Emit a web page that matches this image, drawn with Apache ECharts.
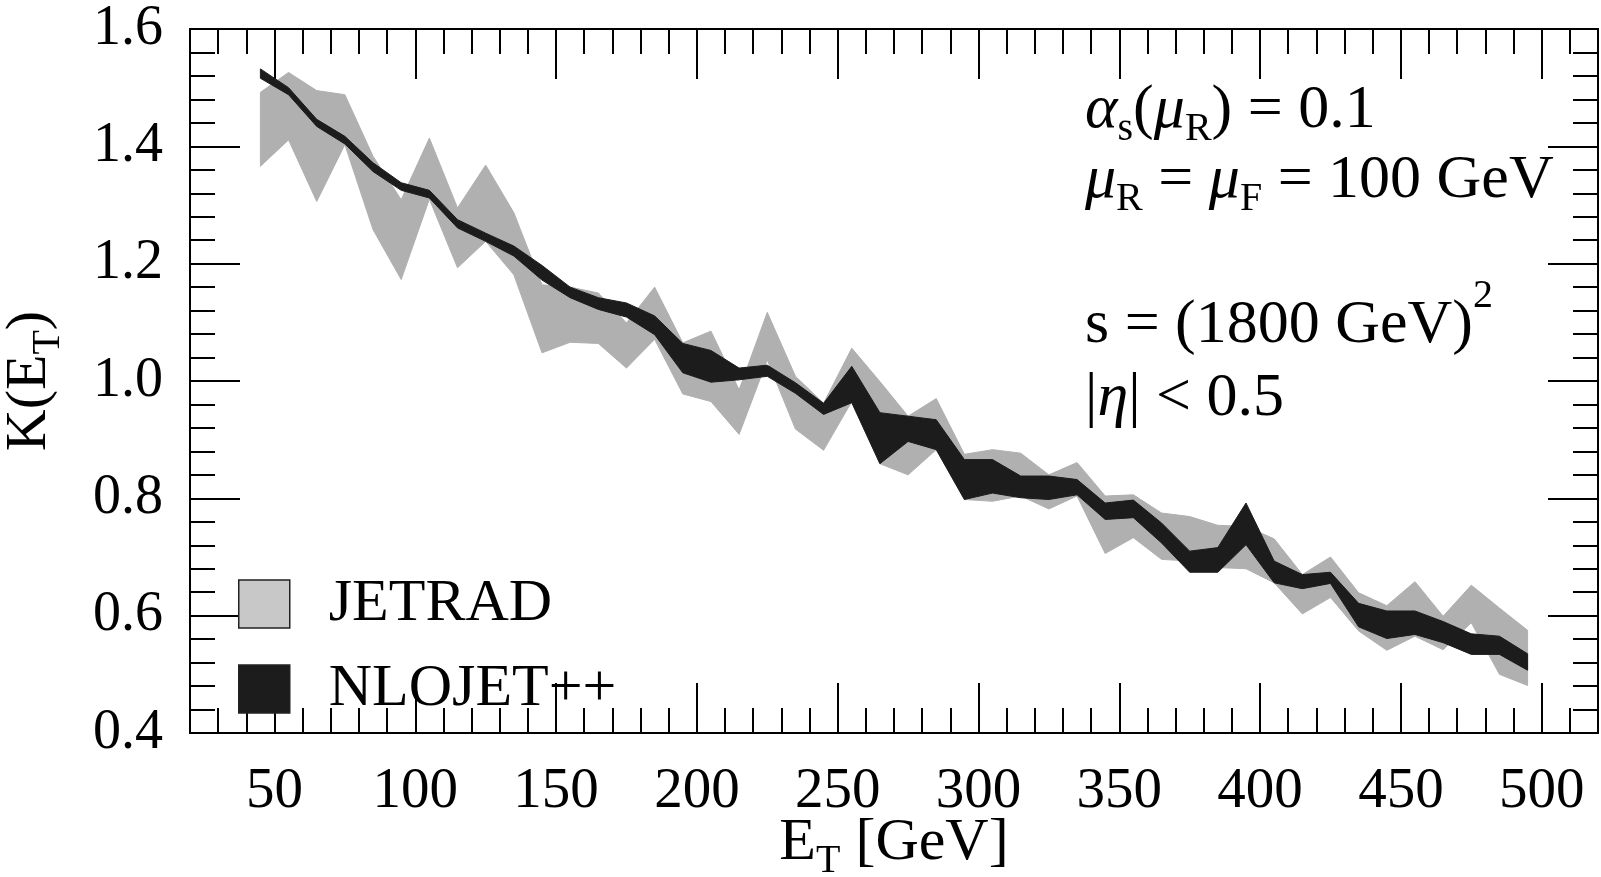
<!DOCTYPE html>
<html>
<head>
<meta charset="utf-8">
<script src="https://cdn.jsdelivr.net/npm/echarts@6/dist/echarts.min.js"></script>
<style>
  html, body { margin: 0; padding: 0; background: #fff; }
  #chart { width: 1601px; height: 877px; }
</style>
</head>
<body>
<div id="chart"></div>
<script>
// E_T bin centres [GeV]
const et = [45, 55, 65, 75, 85, 95, 105, 115, 125, 135, 145, 155, 165, 175, 185, 195,
  205, 215, 225, 235, 245, 255, 265, 275, 285, 295, 305, 315, 325, 335, 345, 355,
  365, 375, 385, 395, 405, 415, 425, 435, 445, 455, 465, 475, 485, 495];

// JETRAD band (upper / lower edge of K)
const jetradHi = [1.492, 1.526, 1.495, 1.488, 1.383, 1.309, 1.414, 1.295, 1.368, 1.287,
  1.164, 1.160, 1.150, 1.099, 1.160, 1.065, 1.085, 0.985, 1.117, 1.008, 0.962, 1.056,
  0.999, 0.940, 0.970, 0.875, 0.883, 0.877, 0.840, 0.861, 0.804, 0.806, 0.775, 0.769,
  0.754, 0.752, 0.731, 0.670, 0.700, 0.639, 0.617, 0.658, 0.599, 0.652, 0.613, 0.575];
const jetradLo = [1.366, 1.411, 1.306, 1.403, 1.258, 1.173, 1.310, 1.193, 1.238, 1.181,
  1.048, 1.066, 1.064, 1.022, 1.071, 0.978, 0.965, 0.909, 1.036, 0.918, 0.882, 0.965,
  0.859, 0.840, 0.883, 0.798, 0.795, 0.804, 0.782, 0.804, 0.706, 0.733, 0.696, 0.693,
  0.682, 0.680, 0.656, 0.603, 0.631, 0.574, 0.541, 0.565, 0.542, 0.588, 0.500, 0.481];

// NLOJET++ band
const nloHi = [1.532, 1.500, 1.446, 1.417, 1.372, 1.338, 1.325, 1.275, 1.252, 1.230,
  1.197, 1.160, 1.142, 1.133, 1.111, 1.064, 1.052, 1.022, 1.027, 0.997, 0.962, 1.025,
  0.946, 0.940, 0.934, 0.866, 0.866, 0.838, 0.838, 0.832, 0.792, 0.797, 0.758, 0.710,
  0.716, 0.792, 0.693, 0.670, 0.674, 0.621, 0.608, 0.608, 0.590, 0.569, 0.565, 0.535];
const nloLo = [1.516, 1.488, 1.434, 1.404, 1.357, 1.325, 1.312, 1.261, 1.238, 1.213,
  1.172, 1.142, 1.122, 1.109, 1.079, 1.014, 0.998, 1.002, 1.008, 0.979, 0.943, 0.963,
  0.859, 0.897, 0.883, 0.798, 0.809, 0.801, 0.798, 0.806, 0.764, 0.767, 0.724, 0.674,
  0.674, 0.721, 0.656, 0.646, 0.655, 0.581, 0.561, 0.568, 0.554, 0.534, 0.534, 0.507];

const xMajorTicks = [50, 100, 150, 200, 250, 300, 350, 400, 450, 500];

const FONT = '"Liberation Serif", "Times New Roman", serif';

const chart = echarts.init(document.getElementById('chart'), null, { renderer: 'canvas' });

// band polygon: upper edge left->right, then lower edge right->left
function bandRender(fill) {
  return function (params, api) {
    if (params.dataIndexInside !== 0) return null;
    const n = params.dataInsideLength;
    const upper = [], lower = [];
    for (let i = 0; i < n; i++) {
      upper.push(api.coord([api.value(0, i), api.value(2, i)]));
      lower.push(api.coord([api.value(0, i), api.value(1, i)]));
    }
    return {
      type: 'polygon',
      shape: { points: upper.concat(lower.reverse()) },
      style: { fill: fill, stroke: fill, lineWidth: 1 }
    };
  };
}

// subscripts pushed down with top padding, superscript pushed up with bottom padding
function richSet(size, sub) {
  return {
    n: { fontFamily: FONT, fontSize: size, lineHeight: 60, color: '#000' },
    i: { fontFamily: FONT, fontSize: size, lineHeight: 60, fontStyle: 'italic', color: '#000' },
    sb: { fontFamily: FONT, fontSize: sub, lineHeight: 60, padding: [36, 0, 0, 0], color: '#000' },
    sp: { fontFamily: FONT, fontSize: sub, lineHeight: 60, padding: [0, 0, 60, 0], color: '#000' }
  };
}
const rich = richSet(62, 40);

const frameLine = { show: true, lineStyle: { color: '#000', width: 2 } };

function xAxisDef(pos, major, withLabel) {
  const ax = {
    type: 'value', position: pos, min: 20, max: 520,
    axisLine: frameLine, splitLine: { show: false },
    axisTick: { show: true, inside: true, length: major ? 50 : 25, lineStyle: { color: '#000', width: 2 } },
    axisLabel: { show: false }
  };
  if (major) {
    ax.axisTick.customValues = xMajorTicks;
    ax.axisLabel = withLabel ? {
      show: true, customValues: xMajorTicks, fontFamily: FONT, fontSize: 57, color: '#000', margin: 31
    } : { show: false };
  } else {
    ax.interval = 10;
  }
  return ax;
}

function yAxisDef(pos, withLabel) {
  return {
    type: 'value', position: pos, min: 0.4, max: 1.6, interval: 0.2,
    axisLine: frameLine, splitLine: { show: false },
    axisTick: { show: true, inside: true, length: 50, lineStyle: { color: '#000', width: 2 } },
    minorTick: { show: true, splitNumber: 5, length: 25, lineStyle: { color: '#000', width: 2 } },
    axisLabel: withLabel ? {
      show: true, fontFamily: FONT, fontSize: 56, color: '#000', margin: 27,
      formatter: v => v.toFixed(1)
    } : { show: false }
  };
}

const xBottom = xAxisDef('bottom', true, true);
xBottom.name = '{n|E}{sb|T}{n| [GeV]}';
xBottom.nameLocation = 'middle';
xBottom.nameGap = 80;
xBottom.nameMoveOverlap = false;
xBottom.nameTextStyle = { rich: richSet(60, 40) };

const yLeft = yAxisDef('left', true);
yLeft.name = '{n|K(E}{sb|T}{n|)}';
yLeft.nameLocation = 'middle';
yLeft.nameGap = 130;
yLeft.nameRotate = 90;
yLeft.nameMoveOverlap = false;
yLeft.nameTextStyle = { rich: richSet(58, 40) };

function txt(x, y, text) {
  return { type: 'text', x: x, y: y, z: 10, style: { text: text, rich: rich, fill: '#000' } };
}

chart.setOption({
  animation: false,
  backgroundColor: '#fff',
  grid: { left: 190, right: 3, top: 29, bottom: 144, containLabel: false, outerBoundsMode: 'none' },
  xAxis: [xBottom, xAxisDef('bottom', false, false), xAxisDef('top', true, false), xAxisDef('top', false, false)],
  yAxis: [yLeft, yAxisDef('right', false)],
  legend: {
    data: ['JETRAD', 'NLOJET++'],
    orient: 'vertical', left: 233, top: 569,
    itemWidth: 51, itemHeight: 48, itemGap: 25, icon: 'rect',
    itemStyle: { borderColor: '#222', borderWidth: 1.5 },
    textStyle: { fontFamily: FONT, fontSize: 60, color: '#000', lineHeight: 48, padding: [0, 0, 0, 34] }
  },
  graphic: [
    txt(1085, 81, '{i|α}{sb|s}{n|(}{i|μ}{sb|R}{n|) = 0.1}'),
    txt(1085, 151, '{i|μ}{sb|R}{n| = }{i|μ}{sb|F}{n| = 100 GeV}'),
    txt(1085, 296, '{n|s = (1800 GeV)}{sp|2}'),
    txt(1085, 369, '{n||}{i|η}{n|| < 0.5}')
  ],
  series: [
    {
      name: 'JETRAD', type: 'custom',
      data: et.map((x, i) => [x, jetradLo[i], jetradHi[i]]),
      itemStyle: { color: '#c8c8c8' },
      renderItem: bandRender('#b0b0b0')
    },
    {
      name: 'NLOJET++', type: 'custom',
      data: et.map((x, i) => [x, nloLo[i], nloHi[i]]),
      itemStyle: { color: '#1c1c1c' },
      renderItem: bandRender('#1c1c1c')
    }
  ]
});
</script>
</body>
</html>
